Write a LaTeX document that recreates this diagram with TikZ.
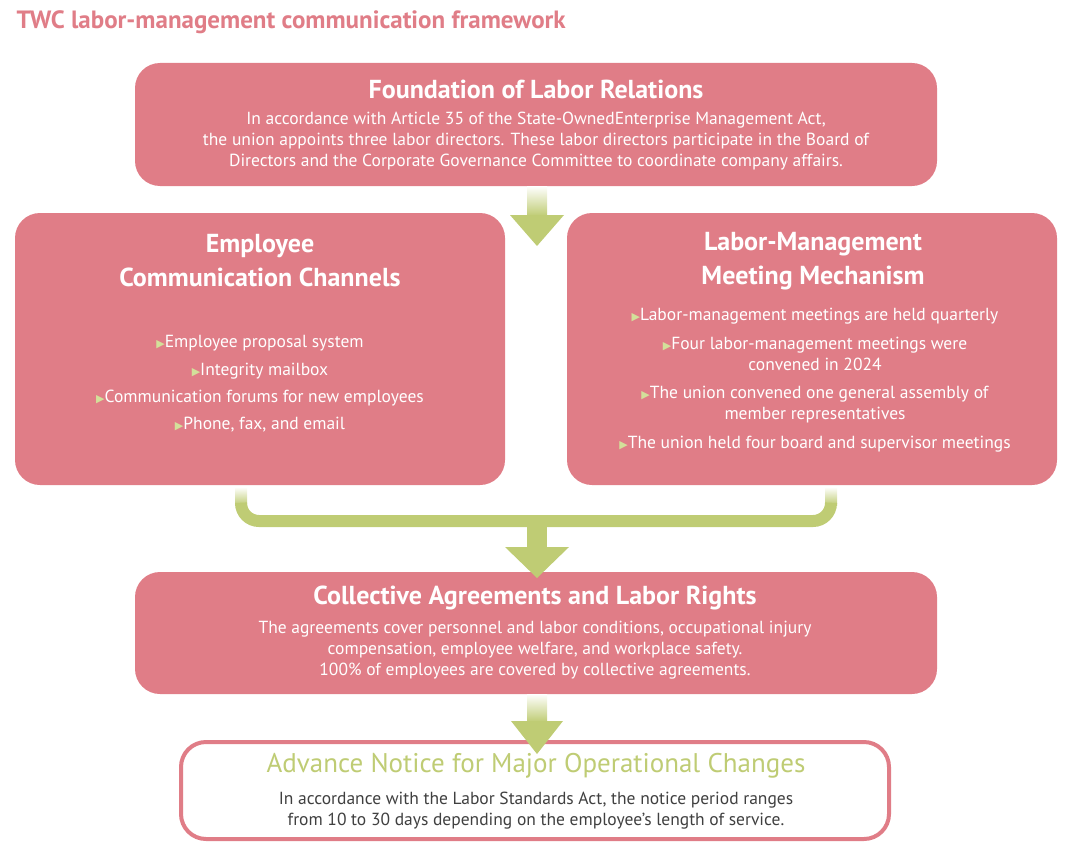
\documentclass[tikz,border=0pt]{standalone}
\usepackage{fontspec}
\setmainfont{PT Sans}
\newfontfamily\dejavu{DejaVu Sans}
\definecolor{pinkbox}{HTML}{E07D87}
\definecolor{grn}{HTML}{BFCC74}
\definecolor{tri}{HTML}{D3E09A}
\definecolor{dark}{HTML}{404040}
\newcommand{\tr}{{\dejavu\fontsize{11}{11}\selectfont\color{tri}▶}}
\tikzset{
 box/.style={fill=pinkbox, rounded corners=25pt},
 ttl/.style={text=white, font=\bfseries\fontsize{26}{34}\selectfont, align=center},
 body/.style={text=white, font=\fontsize{17.5}{21}\selectfont, align=center},
 stem/.style={top color=white, bottom color=grn, draw=none},
}
\begin{document}
\begin{tikzpicture}[x=1pt,y=-1pt]
\useasboundingbox (0,0) rectangle (1075,848);
\node[anchor=west, text=pinkbox, font=\bfseries\fontsize{25}{30}\selectfont] (t) at (13,22) {TWC labor-management communication framework};
% boxes
\fill[box] (135,63) rectangle (937,186);
\fill[box] (15,213) rectangle (505,485);
\fill[box] (567,213) rectangle (1057,485);
\fill[box] (135,572) rectangle (937,694);
\draw[pinkbox, line width=4pt, fill=white, rounded corners=25pt] (181,742) rectangle (889,839);
% arrow 1
\shade[stem] (527,186) rectangle (547,216);
\fill[grn] (510,215) -- (564,215) -- (537,246) -- cycle;
% bracket
\shade[stem] (235,487) rectangle (247,505);
\shade[stem] (825,487) rectangle (837,505);
\draw[grn, line width=12pt, rounded corners=18pt] (241,504) -- (241,521) -- (831,521) -- (831,504);
\fill[grn] (527,526) rectangle (547,548);
\fill[grn] (505,547) -- (569,547) -- (537,578) -- cycle;
% arrow 3
\shade[stem] (527,694) rectangle (547,722);
\fill[grn] (511,721) -- (563,721) -- (537,754) -- cycle;
% texts
\node[ttl] (a) at (536,89) {Foundation of Labor Relations};
\node[body] (a2) at (536,141) {In accordance with Article 35 of the State-OwnedEnterprise Management Act,\\the union appoints three labor directors. These labor directors participate in the Board of\\Directors and the Corporate Governance Committee to coordinate company affairs.};
\node[ttl] (b) at (260,261) {Employee\\Communication Channels};
\node[body, font=\fontsize{17.5}{27.3}\selectfont] (b2) at (260,384) {\tr Employee proposal system\\\tr Integrity mailbox\\\tr Communication forums for new employees\\\tr Phone, fax, and email};
\node[ttl] (c) at (813,261) {Labor-Management\\Meeting Mechanism};
\node[body] (c1) at (815,316) {\tr Labor-management meetings are held quarterly};
\node[body] (c2) at (815,354) {\tr Four labor-management meetings were\\convened in 2024};
\node[body] (c3) at (815,405) {\tr The union convened one general assembly of\\member representatives};
\node[body] (c4) at (815,444) {\tr The union held four board and supervisor meetings};
\node[ttl] (d) at (535,598) {Collective Agreements and Labor Rights};
\node[body] (d2) at (535,650) {The agreements cover personnel and labor conditions, occupational injury\\compensation, employee welfare, and workplace safety.\\100\% of employees are covered by collective agreements.};
\node[ttl, text=grn, font=\fontsize{27}{34}\selectfont] (e) at (536,766) {Advance Notice for Major Operational Changes};
\node[body, text=dark] (e2) at (536,811) {In accordance with the Labor Standards Act, the notice period ranges\\from 10 to 30 days depending on the employee's length of service.};
\end{tikzpicture}
\end{document}
